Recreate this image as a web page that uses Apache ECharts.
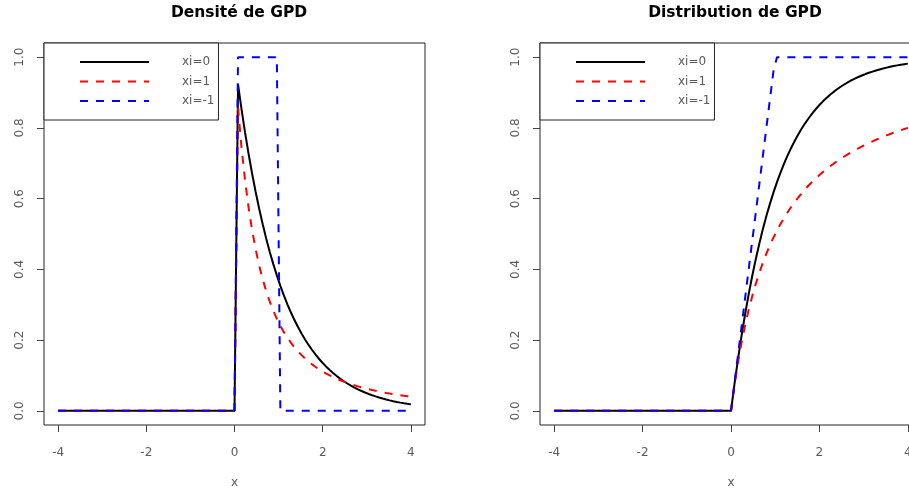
<!DOCTYPE html>
<html>
<head>
<meta charset="utf-8">
<script src="https://cdn.jsdelivr.net/npm/echarts@6/dist/echarts.min.js"></script>
<style>html,body{margin:0;padding:0;background:#fff}#c{width:909px;height:488px}</style>
</head>
<body>
<div id="c"></div>
<script>
// x grid (R: seq(-4, 4, by = 0.08); all values are 0 for x < 0)
var xs = [-4, 0, 0.08, 0.16, 0.24, 0.32, 0.40, 0.48, 0.56, 0.64, 0.72, 0.80, 0.88, 0.96, 1.04, 1.12, 1.20, 1.28, 1.36, 1.44, 1.52, 1.60, 1.68, 1.76, 1.84, 1.92, 2.00, 2.08, 2.16, 2.24, 2.32, 2.40, 2.48, 2.56, 2.64, 2.72, 2.80, 2.88, 2.96, 3.04, 3.12, 3.20, 3.28, 3.36, 3.44, 3.52, 3.60, 3.68, 3.76, 3.84, 3.92, 4.00];

// Density
var dens_xi0 = [0, 0, 0.9231, 0.8521, 0.7866, 0.7261, 0.6703, 0.6188, 0.5712, 0.5273, 0.4868, 0.4493, 0.4148, 0.3829, 0.3535, 0.3263, 0.3012, 0.2780, 0.2567, 0.2369, 0.2187, 0.2019, 0.1864, 0.1720, 0.1588, 0.1466, 0.1353, 0.1249, 0.1153, 0.1065, 0.0983, 0.0907, 0.0837, 0.0773, 0.0714, 0.0659, 0.0608, 0.0561, 0.0518, 0.0478, 0.0442, 0.0408, 0.0376, 0.0347, 0.0321, 0.0296, 0.0273, 0.0252, 0.0233, 0.0215, 0.0198, 0.0183];
var dens_xi1 = [0, 0, 0.8573, 0.7432, 0.6504, 0.5739, 0.5102, 0.4565, 0.4109, 0.3718, 0.3380, 0.3086, 0.2829, 0.2603, 0.2403, 0.2225, 0.2066, 0.1924, 0.1795, 0.1680, 0.1575, 0.1479, 0.1392, 0.1313, 0.1240, 0.1173, 0.1111, 0.1054, 0.1001, 0.0953, 0.0907, 0.0865, 0.0826, 0.0789, 0.0755, 0.0723, 0.0693, 0.0664, 0.0638, 0.0613, 0.0589, 0.0567, 0.0546, 0.0526, 0.0507, 0.0489, 0.0473, 0.0457, 0.0441, 0.0427, 0.0413, 0.0400];
var dens_xim1 = [0, 0, 1, 1, 1, 1, 1, 1, 1, 1, 1, 1, 1, 1, 0, 0, 0, 0, 0, 0, 0, 0, 0, 0, 0, 0, 0, 0, 0, 0, 0, 0, 0, 0, 0, 0, 0, 0, 0, 0, 0, 0, 0, 0, 0, 0, 0, 0, 0, 0, 0, 0];

// Distribution
var dist_xi0 = [0, 0, 0.0769, 0.1479, 0.2134, 0.2739, 0.3297, 0.3812, 0.4288, 0.4727, 0.5132, 0.5507, 0.5852, 0.6171, 0.6465, 0.6737, 0.6988, 0.7220, 0.7433, 0.7631, 0.7813, 0.7981, 0.8136, 0.8280, 0.8412, 0.8534, 0.8647, 0.8751, 0.8847, 0.8935, 0.9017, 0.9093, 0.9163, 0.9227, 0.9286, 0.9341, 0.9392, 0.9439, 0.9482, 0.9522, 0.9558, 0.9592, 0.9624, 0.9653, 0.9679, 0.9704, 0.9727, 0.9748, 0.9767, 0.9785, 0.9802, 0.9817];
var dist_xi1 = [0, 0, 0.0741, 0.1379, 0.1935, 0.2424, 0.2857, 0.3243, 0.3590, 0.3902, 0.4186, 0.4444, 0.4681, 0.4898, 0.5098, 0.5283, 0.5455, 0.5614, 0.5763, 0.5902, 0.6032, 0.6154, 0.6269, 0.6377, 0.6479, 0.6575, 0.6667, 0.6753, 0.6835, 0.6914, 0.6988, 0.7059, 0.7126, 0.7191, 0.7253, 0.7312, 0.7368, 0.7423, 0.7475, 0.7525, 0.7573, 0.7619, 0.7664, 0.7706, 0.7748, 0.7788, 0.7826, 0.7863, 0.7899, 0.7934, 0.7967, 0.8000];
var dist_xim1 = [0, 0, 0.08, 0.16, 0.24, 0.32, 0.40, 0.48, 0.56, 0.64, 0.72, 0.80, 0.88, 0.96, 1, 1, 1, 1, 1, 1, 1, 1, 1, 1, 1, 1, 1, 1, 1, 1, 1, 1, 1, 1, 1, 1, 1, 1, 1, 1, 1, 1, 1, 1, 1, 1, 1, 1, 1, 1, 1, 1];

var seriesNames = ['xi=0', 'xi=1', 'xi=-1'];
var titles = ['Densité de GPD', 'Distribution de GPD'];
var xTicks = [-4, -2, 0, 2, 4];
var yTicks = [0, 0.2, 0.4, 0.6, 0.8, 1.0];
var xLabel = 'x';

function pairs(v) { return xs.map(function (x, i) { return [x, v[i]]; }); }

var FONT = 'DejaVu Sans';
var TXT = '#5a5a5a';
var colors = ['#000000', '#ff0000', '#0000ff'];
var dashes = ['solid', [8, 8], [8, 8]];

var grids = [
  { left: 44, top: 43, width: 381, height: 382, show: true, borderColor: '#222', borderWidth: 1, backgroundColor: 'transparent', outerBoundsMode: 'none', containLabel: false },
  { left: 540, top: 43, width: 382, height: 382, show: true, borderColor: '#222', borderWidth: 1, backgroundColor: 'transparent', outerBoundsMode: 'none', containLabel: false }
];

function xAx(i) {
  return {
    type: 'value', gridIndex: i, min: -4.32, max: 4.32,
    splitLine: { show: false }, axisLine: { show: false, onZero: false },
    axisTick: { show: true, length: 7, customValues: xTicks, lineStyle: { color: '#444' } },
    axisLabel: { customValues: xTicks, margin: 22, color: TXT, fontFamily: FONT, fontSize: 12,
      formatter: function (v) { return String(v); } },
    name: xLabel, nameLocation: 'middle', nameGap: 52,
    nameTextStyle: { color: TXT, fontFamily: FONT, fontSize: 12 }
  };
}
function yAx(i) {
  return {
    type: 'value', gridIndex: i, min: -0.04, max: 1.04,
    splitLine: { show: false }, axisLine: { show: false, onZero: false },
    axisTick: { show: true, length: 7, customValues: yTicks, lineStyle: { color: '#444' } },
    axisLabel: { customValues: yTicks, rotate: 90, margin: 18, color: TXT, fontFamily: FONT, fontSize: 12,
      formatter: function (v) { return v.toFixed(1); } }
  };
}

var data = [[dens_xi0, dens_xi1, dens_xim1], [dist_xi0, dist_xi1, dist_xim1]];
var series = [];
for (var p = 0; p < 2; p++) {
  for (var s = 0; s < 3; s++) {
    series.push({
      name: seriesNames[s], type: 'line', xAxisIndex: p, yAxisIndex: p,
      data: pairs(data[p][s]), symbol: 'none', animation: false, silent: true,
      lineStyle: { color: colors[s], width: 2, type: dashes[s] },
      itemStyle: { color: colors[s] }
    });
  }
}

function legendAt(left) {
  return {
    data: seriesNames, orient: 'vertical', left: left, top: 43,
    padding: [13, 4, 13, 35], itemWidth: 69, itemHeight: 14, itemGap: 7.5,
    borderColor: '#222', borderWidth: 1, backgroundColor: '#fff',
    selectedMode: false,
    itemStyle: { opacity: 0 },
    textStyle: { color: TXT, fontFamily: FONT, fontSize: 12, padding: [0, 0, 0, 28], width: 34 }
  };
}

var chart = echarts.init(document.getElementById('c'), null, { renderer: 'canvas' });
chart.setOption({
  animation: false,
  backgroundColor: '#fff',
  title: [
    { text: titles[0], left: 234, top: 0, textAlign: 'center', textStyle: { fontFamily: FONT, fontSize: 15.5, fontWeight: 'bold', color: '#000' } },
    { text: titles[1], left: 730, top: 0, textAlign: 'center', textStyle: { fontFamily: FONT, fontSize: 15.5, fontWeight: 'bold', color: '#000' } }
  ],
  legend: [legendAt(44), legendAt(540)],
  grid: grids,
  xAxis: [xAx(0), xAx(1)],
  yAxis: [yAx(0), yAx(1)],
  series: series
});
</script>
</body>
</html>
